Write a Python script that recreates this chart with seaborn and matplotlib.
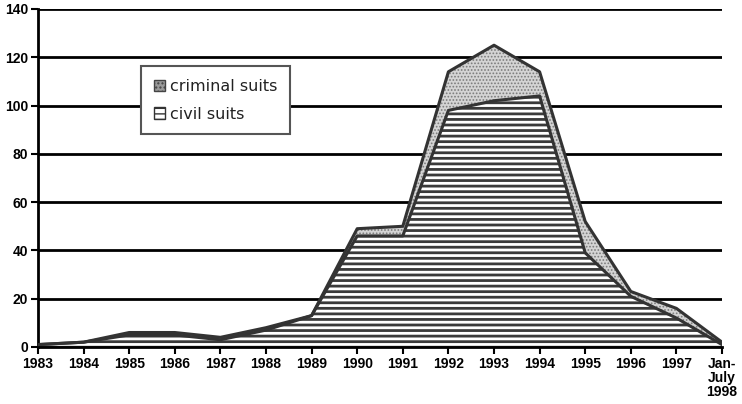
import numpy as np
import matplotlib
matplotlib.use("Agg")
import matplotlib.pyplot as plt
import matplotlib.patches as mpatches
import seaborn as sns

years = ['1983', '1984', '1985', '1986', '1987', '1988', '1989', '1990',
         '1991', '1992', '1993', '1994', '1995', '1996', '1997', 'Jan-\nJuly\n1998']
civil = [1, 2, 5, 5, 3, 7, 13, 46, 46, 98, 102, 104, 39, 21, 12, 1]
criminal = [0, 0, 1, 1, 1, 1, 0, 3, 4, 16, 23, 10, 13, 2, 4, 1]
yticks = [0, 20, 40, 60, 80, 100, 120, 140]

sns.set_style("white")
plt.rcParams['font.family'] = ['Liberation Sans', 'DejaVu Sans']
plt.rcParams['text.color'] = 'black'
plt.rcParams['xtick.color'] = 'black'
plt.rcParams['ytick.color'] = 'black'

x = np.arange(len(years))
civil = np.array(civil)
total = civil + np.array(criminal)

fig = plt.figure(figsize=(7.42, 4.04), dpi=100)
ax = fig.add_axes([38 / 742, 1 - 347 / 404, 684 / 742, 338 / 404])

# grid lines behind the areas
for v in yticks:
    ax.axhline(v, color='black', lw=2, zorder=0)

# civil suits: dense horizontal stripes
with plt.rc_context({'hatch.linewidth': 2.0}):
    ax.fill_between(x, 0, civil, facecolor='white', edgecolor='#3a3a3a',
                    hatch='---', linewidth=0, zorder=2)
# criminal suits: grey stipple
with plt.rc_context({'hatch.linewidth': 0.8}):
    ax.fill_between(x, civil, total, facecolor='#d4d4d4', edgecolor='#7a7a7a',
                    hatch='.....', linewidth=0, zorder=2)

sns.lineplot(x=x, y=total, ax=ax, color='#333333', lw=2.2, zorder=3)
sns.lineplot(x=x, y=civil, ax=ax, color='#333333', lw=2.2, zorder=3)

ax.set_xlim(0, len(years) - 1)
ax.set_ylim(0, 140)
ax.set_xticks(x)
ax.set_xticklabels(years, fontsize=10, fontweight='bold', linespacing=1.0)
ax.set_yticks(yticks)
ax.set_yticklabels([str(v) for v in yticks], fontsize=10, fontweight='bold')
ax.tick_params(axis='both', direction='out', length=5, width=1.5, color='black',
               labelcolor='black', pad=2, bottom=True, left=True)
for s in ['top', 'right']:
    ax.spines[s].set_visible(False)
ax.spines['left'].set_linewidth(2)
ax.spines['left'].set_color('black')
ax.spines['bottom'].set_linewidth(2)
ax.spines['bottom'].set_color('black')
ax.set_xlabel('')
ax.set_ylabel('')

h_crim = mpatches.Patch(facecolor='#9a9a9a', edgecolor='#444444', hatch='....', lw=1)
h_civ = mpatches.Patch(facecolor='white', edgecolor='#333333', hatch='---', lw=1)
leg = ax.legend([h_crim, h_civ], ['criminal suits', 'civil suits'],
                loc='upper left', bbox_to_anchor=(0.1506, 0.831),
                fancybox=False, frameon=True, framealpha=1, edgecolor='#555555',
                prop={'family': 'DejaVu Sans', 'size': 11.5},
                handlelength=0.7, handleheight=0.7, handletextpad=0.3,
                labelspacing=0.8, borderpad=0.8, borderaxespad=0)
leg.get_frame().set_linewidth(1.5)
for t in leg.get_texts():
    t.set_color('#222222')
leg.set_zorder(5)

fig.savefig('out.png', dpi=100)
